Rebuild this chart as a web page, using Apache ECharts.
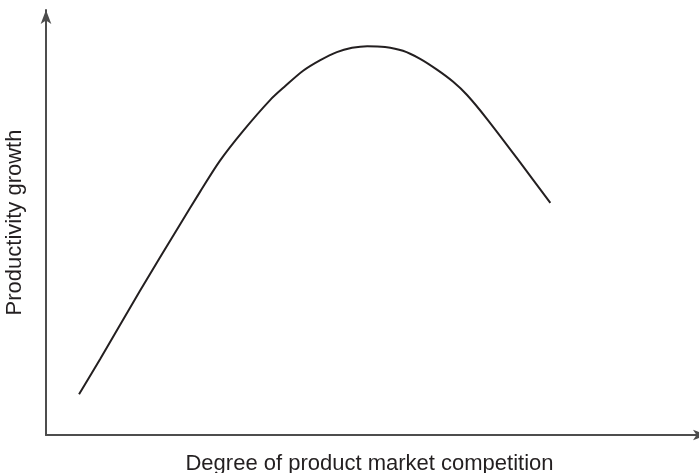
<!DOCTYPE html>
<html>
<head>
<meta charset="utf-8">
<script src="https://cdn.jsdelivr.net/npm/echarts@6/dist/echarts.min.js"></script>
<style>
  html, body { margin: 0; padding: 0; background: #fff; }
  #chart { width: 699px; height: 473px; }
</style>
</head>
<body>
<div id="chart"></div>
<script>
// competition (0-100) vs productivity growth (0-100)
const competition = [5.0, 8.2, 14.2, 20.3, 23.3, 26.3, 29.8, 33.9, 36.2, 38.9, 41.5, 44.0,
  46.3, 48.6, 51.3, 54.0, 56.6, 59.2, 61.6, 63.7, 66.7, 71.7, 76.3]
const growth = [9.6, 17.9, 33.9, 49.6, 57.2, 64.5, 71.5, 78.8, 82.1, 85.7, 88.2, 90.1,
  91.1, 91.5, 91.3, 90.4, 88.5, 85.9, 83.1, 80.0, 74.4, 64.2, 54.6]

const X_NAME = 'Degree of product market competition'
const Y_NAME = 'Productivity growth'
const AXIS_COLOR = '#4d4d4d'
const CURVE_COLOR = '#231f20'
const TEXT_STYLE = { color: '#231f20', fontSize: 22, fontFamily: 'Liberation Sans' }

const chart = echarts.init(document.getElementById('chart'))
chart.setOption({
  animation: false,
  grid: { left: 46, right: -8, top: 10, bottom: 38, outerBoundsMode: 'none', containLabel: false },
  xAxis: {
    type: 'value',
    min: 0,
    max: 100,
    name: X_NAME,
    nameLocation: 'middle',
    nameGap: 18,
    // axis runs off the right edge, so pull the title back to the visible middle
    nameTextStyle: { ...TEXT_STYLE, padding: [0, 14, 0, 0] },
    axisLine: {
      show: true,
      symbol: ['none', 'arrow'],
      symbolSize: [8, 14],
      lineStyle: { color: AXIS_COLOR, width: 2 },
    },
    axisTick: { show: false },
    axisLabel: { show: false },
    splitLine: { show: false },
  },
  yAxis: {
    type: 'value',
    min: 0,
    max: 100,
    name: Y_NAME,
    nameLocation: 'middle',
    nameGap: 20,
    nameTextStyle: TEXT_STYLE,
    axisLine: {
      show: true,
      symbol: ['none', 'arrow'],
      symbolSize: [8, 14],
      lineStyle: { color: AXIS_COLOR, width: 2 },
    },
    axisTick: { show: false },
    axisLabel: { show: false },
    splitLine: { show: false },
  },
  series: [
    {
      type: 'line',
      smooth: 0.3,
      showSymbol: false,
      symbol: 'none',
      data: competition.map((x, i) => [x, growth[i]]),
      lineStyle: { color: CURVE_COLOR, width: 2 },
    },
  ],
})
</script>
</body>
</html>
